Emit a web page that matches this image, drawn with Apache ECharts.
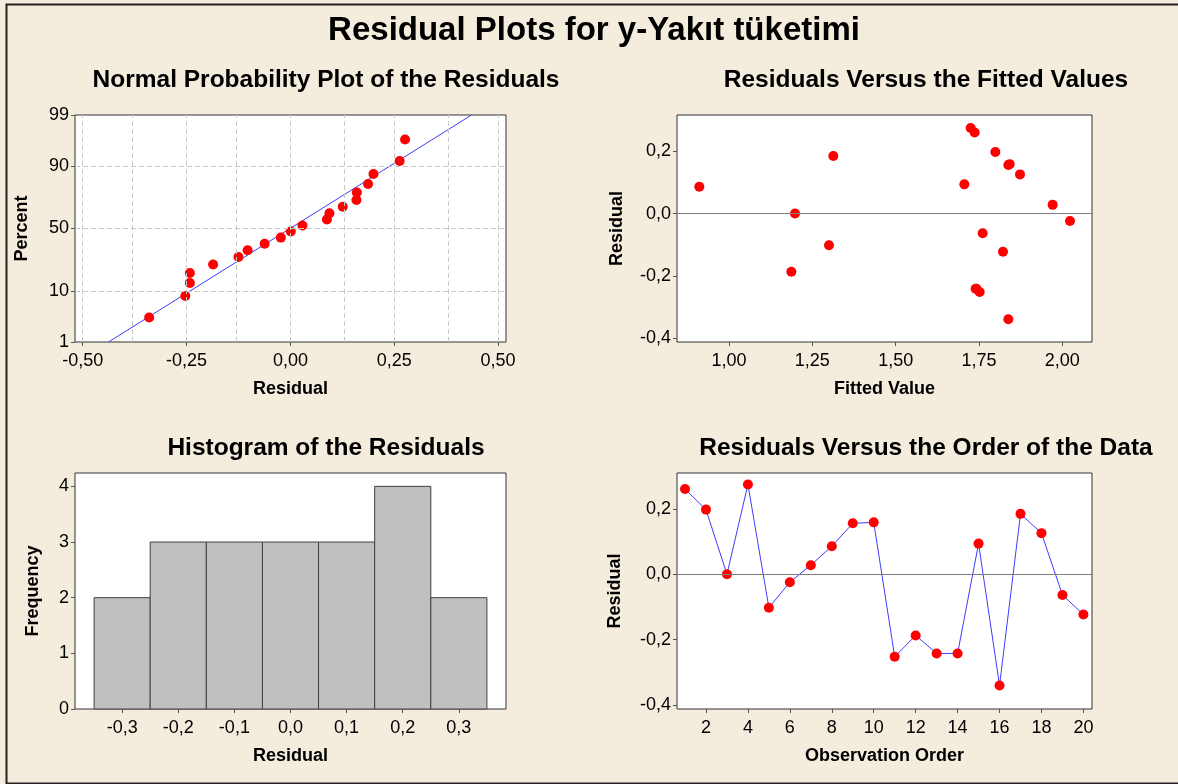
<!DOCTYPE html>
<html>
<head>
<meta charset="utf-8">
<script src="https://cdn.jsdelivr.net/npm/echarts@6/dist/echarts.min.js"></script>
<style>
  html, body { margin: 0; padding: 0; background: #f4ecdc; }
  #chart { width: 1178px; height: 784px; }
</style>
</head>
<body>
<div id="chart"></div>
<script>
// observations in data order
const obsOrder = [1, 2, 3, 4, 5, 6, 7, 8, 9, 10, 11, 12, 13, 14, 15, 16, 17, 18, 19, 20];
const residuals = [0.261, 0.198, 0.000, 0.275, -0.102, -0.024, 0.028, 0.086, 0.156, 0.159,
                   -0.252, -0.187, -0.242, -0.242, 0.094, -0.340, 0.185, 0.126, -0.063, -0.123];
const fittedValues = [1.737, 1.799, 1.198, 1.725, 1.300, 2.023, 1.971, 0.911, 1.838, 1.842,
                      1.752, 1.187, 1.740, 1.742, 1.706, 1.838, 1.313, 1.873, 1.761, 1.822];

// normal probability plot (sorted residuals vs percent)
const npResidual = [-0.340, -0.253, -0.242, -0.242, -0.186, -0.125, -0.103, -0.062, -0.023, 0.001,
                    0.029, 0.088, 0.094, 0.126, 0.159, 0.160, 0.187, 0.200, 0.263, 0.276];
const npPercent = [3.4, 8.3, 13.2, 18.1, 23.0, 27.9, 32.8, 37.7, 42.6, 47.5,
                   52.5, 57.4, 62.3, 67.2, 72.1, 77.0, 81.9, 86.8, 91.7, 96.6];
const fitLineX = [-0.438, 0.436];
const fitLinePct = [1, 99];

// histogram
const binCenters = [-0.3, -0.2, -0.1, 0.0, 0.1, 0.2, 0.3];
const binCounts = [2, 3, 3, 3, 3, 4, 2];
const binWidth = 0.1;

// tick labels
const npPercentTicks = [1, 10, 50, 90, 99];
const npResidTicks = [-0.5, -0.25, 0, 0.25, 0.5];
const npGridX = [-0.5, -0.375, -0.25, -0.125, 0, 0.125, 0.25, 0.375, 0.5];
const npGridPct = [10, 50, 90];
const fittedTicks = [1, 1.25, 1.5, 1.75, 2];
const residTicks = [-0.4, -0.2, 0, 0.2];
const freqTicks = [0, 1, 2, 3, 4];
const orderTicks = [2, 4, 6, 8, 10, 12, 14, 16, 18, 20];

// probability axis: percent -> normal quantile (Acklam)
function probit(p) {
  const a = [-39.69683028665376, 220.9460984245205, -275.9285104469687, 138.3577518672690, -30.66479806614716, 2.506628277459239];
  const b = [-54.47609879822406, 161.5858368580409, -155.6989798598866, 66.80131188771972, -13.28068155288572];
  const c = [-0.007784894002430293, -0.3223964580411365, -2.400758277161838, -2.549732539343734, 4.374664141464968, 2.938163982698783];
  const d = [0.007784695709041462, 0.3224671290700398, 2.445134137142996, 3.754408661907416];
  const pl = 0.02425;
  let q, r;
  if (p < pl) {
    q = Math.sqrt(-2 * Math.log(p));
    return (((((c[0]*q+c[1])*q+c[2])*q+c[3])*q+c[4])*q+c[5]) / ((((d[0]*q+d[1])*q+d[2])*q+d[3])*q+1);
  } else if (p <= 1 - pl) {
    q = p - 0.5; r = q * q;
    return (((((a[0]*r+a[1])*r+a[2])*r+a[3])*r+a[4])*r+a[5])*q / (((((b[0]*r+b[1])*r+b[2])*r+b[3])*r+b[4])*r+1);
  }
  q = Math.sqrt(-2 * Math.log(1 - p));
  return -(((((c[0]*q+c[1])*q+c[2])*q+c[3])*q+c[4])*q+c[5]) / ((((d[0]*q+d[1])*q+d[2])*q+d[3])*q+1);
}
const z = pct => probit(pct / 100);
const npZTicks = npPercentTicks.map(z);

const FONT = 'Liberation Sans, Arial, sans-serif';
const comma = digits => v => v.toFixed(digits).replace('.', ',');

const baseAxis = (extra, labelMargin) => Object.assign({
  type: 'value',
  axisLine: { show: false, onZero: false },
  axisTick: { show: true, length: 4, lineStyle: { color: '#555' } },
  splitLine: { show: false },
  nameLocation: 'middle',
  nameTextStyle: { fontFamily: FONT, fontSize: 18, fontWeight: 'bold', color: '#000' },
  axisLabel: { fontFamily: FONT, fontSize: 18, color: '#000', margin: labelMargin }
}, extra);

function ticks(axis, values, fmt) {
  axis.axisLabel = Object.assign({}, axis.axisLabel, { customValues: values, formatter: fmt });
  axis.axisTick = Object.assign({}, axis.axisTick, { customValues: values });
  return axis;
}

const gridStyle = { show: true, backgroundColor: '#fff', borderColor: '#333', borderWidth: 1 };
const subTitle = (text, x, y) => ({
  text, left: x, top: y, textAlign: 'center',
  textStyle: { fontFamily: FONT, fontSize: 24.5, fontWeight: 'bold', color: '#000' }
});
const dot = { color: '#ff0000', opacity: 1 };

const chart = echarts.init(document.getElementById('chart'));

chart.setOption({
  backgroundColor: '#f4ecdc',
  animation: false,
  title: [
    { text: 'Residual Plots for y-Yakıt tüketimi', left: 589, top: 9, textAlign: 'center',
      textStyle: { fontFamily: FONT, fontSize: 33, fontWeight: 'bold', color: '#000' } },
    subTitle('Normal Probability Plot of the Residuals', 321, 63),
    subTitle('Residuals Versus the Fitted Values', 921, 63),
    subTitle('Histogram of the Residuals', 321, 431),
    subTitle('Residuals Versus the Order of the Data', 921, 431)
  ],
  graphic: [{
    type: 'rect', left: 4, top: 2, silent: true,
    shape: { width: 1200, height: 779 },
    style: { fill: 'none', stroke: '#222', lineWidth: 2 }
  }],
  grid: [
    Object.assign({ left: 75, top: 115, width: 431, height: 227 }, gridStyle),
    Object.assign({ left: 677, top: 115, width: 415, height: 227 }, gridStyle),
    Object.assign({ left: 75, top: 473, width: 431, height: 236 }, gridStyle),
    Object.assign({ left: 677, top: 473, width: 415, height: 236 }, gridStyle)
  ],
  xAxis: [
    ticks(baseAxis({ gridIndex: 0, min: -0.5185, max: 0.519, name: 'Residual', nameGap: 38 }, 10), npResidTicks, comma(2)),
    ticks(baseAxis({ gridIndex: 1, min: 0.844, max: 2.089, name: 'Fitted Value', nameGap: 38 }, 10), fittedTicks, comma(2)),
    ticks(baseAxis({ gridIndex: 2, min: -0.384, max: 0.384, name: 'Residual', nameGap: 38 }, 10), binCenters, comma(1)),
    ticks(baseAxis({ gridIndex: 3, min: 0.617, max: 20.41, name: 'Observation Order', nameGap: 38 }, 10), orderTicks, v => String(v))
  ],
  yAxis: [
    ticks(baseAxis({ gridIndex: 0, min: z(1), max: z(99), name: 'Percent', nameGap: 44 }, 6), npZTicks,
      v => {
        let best = 0;
        npZTicks.forEach((t, i) => { if (Math.abs(t - v) < Math.abs(npZTicks[best] - v)) best = i; });
        return String(npPercentTicks[best]);
      }),
    ticks(baseAxis({ gridIndex: 1, min: -0.413, max: 0.317, name: 'Residual', nameGap: 51 }, 6), residTicks, comma(1)),
    ticks(baseAxis({ gridIndex: 2, min: 0, max: 4.24, name: 'Frequency', nameGap: 33 }, 6), freqTicks, v => String(v)),
    ticks(baseAxis({ gridIndex: 3, min: -0.412, max: 0.310, name: 'Residual', nameGap: 53 }, 6), residTicks, comma(1))
  ],
  series: [
    // normal probability plot: dashed grid + fit line
    {
      type: 'line', xAxisIndex: 0, yAxisIndex: 0, z: 1, silent: true,
      data: fitLineX.map((x, i) => [x, z(fitLinePct[i])]),
      showSymbol: false,
      lineStyle: { color: '#3c3cff', width: 1 },
      markLine: {
        silent: true, symbol: 'none', label: { show: false },
        lineStyle: { color: '#c8c8c8', type: [5, 3], width: 1 },
        data: npGridX.map(v => ({ xAxis: v })).concat(npGridPct.map(p => ({ yAxis: z(p) })))
      }
    },
    {
      type: 'scatter', xAxisIndex: 0, yAxisIndex: 0, z: 3,
      symbolSize: 10, itemStyle: dot,
      data: npResidual.map((r, i) => [r, z(npPercent[i])])
    },
    // residuals vs fitted
    {
      type: 'scatter', xAxisIndex: 1, yAxisIndex: 1, z: 3,
      symbolSize: 10, itemStyle: dot,
      data: fittedValues.map((f, i) => [f, residuals[i]]),
      markLine: {
        silent: true, symbol: 'none', label: { show: false },
        lineStyle: { color: '#7f7f7f', type: 'solid', width: 1 },
        data: [{ yAxis: 0 }]
      }
    },
    // histogram
    {
      type: 'custom', xAxisIndex: 2, yAxisIndex: 2,
      data: binCenters.map((c, i) => [c, binCounts[i]]),
      renderItem: (params, api) => {
        const c = api.value(0);
        const p0 = api.coord([c - binWidth / 2, 0]);
        const p1 = api.coord([c + binWidth / 2, api.value(1)]);
        return {
          type: 'rect',
          shape: { x: p0[0], y: p1[1], width: p1[0] - p0[0], height: p0[1] - p1[1] },
          style: { fill: '#c0c0c0', stroke: '#404040', lineWidth: 1 }
        };
      }
    },
    // residuals vs order
    {
      type: 'line', xAxisIndex: 3, yAxisIndex: 3, z: 3,
      symbol: 'circle', symbolSize: 10,
      itemStyle: dot,
      lineStyle: { color: '#3c3cff', width: 1 },
      data: obsOrder.map((o, i) => [o, residuals[i]]),
      markLine: {
        silent: true, symbol: 'none', label: { show: false },
        lineStyle: { color: '#7f7f7f', type: 'solid', width: 1 },
        data: [{ yAxis: 0 }]
      }
    }
  ]
});
</script>
</body>
</html>
